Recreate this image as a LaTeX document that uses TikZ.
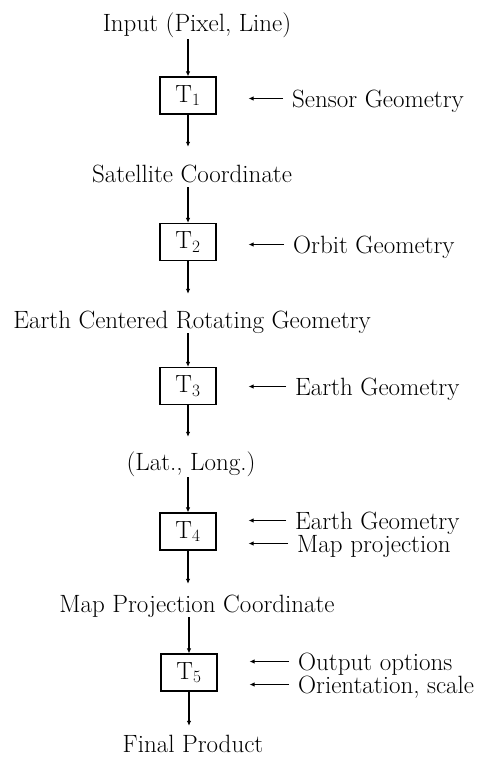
\documentclass[tikz,border=0pt]{standalone}
\usepackage{amsmath}
\usepackage{tikz}
\usetikzlibrary{positioning, arrows.meta, calc}

\begin{document}
\begin{tikzpicture}[
    x=1pt, y=-1pt,
    every node/.style={font=\fontsize{25}{29}\selectfont},
    tbox/.style={draw, line width=1.2pt, minimum width=56pt, minimum height=37pt, inner sep=0pt},
    lbl/.style={inner sep=0pt, text height=17pt, text depth=0pt, anchor=base},
    side/.style={inner sep=0pt, text height=17pt, text depth=0pt, anchor=base west},
    arr/.style={-{Latex[length=5pt, width=4.5pt]}, line width=1.2pt},
  ]
  \useasboundingbox (0,0) rectangle (488,757);

  % ---- main column ----
  \node[lbl] (inp) at (197,32) {Input (Pixel, Line)};
  \node[tbox] (t1) at (188,95.5) {$\mathrm{T}_1$};
  \node[lbl] (sat) at (192,182) {Satellite Coordinate};
  \node[tbox] (t2) at (188,242) {$\mathrm{T}_2$};
  \node[lbl] (ecr) at (192,328) {Earth Centered Rotating Geometry};
  \node[tbox] (t3) at (188,386) {$\mathrm{T}_3$};
  \node[lbl] (latlong) at (191,470) {(Lat., Long.)};
  \node[tbox] (t4) at (188,531.5) {$\mathrm{T}_4$};
  \node[lbl] (mapc) at (197,612) {Map Projection Coordinate};
  \node[tbox] (t5) at (189,672.5) {$\mathrm{T}_5$};
  \node[lbl] (final) at (193,752) {Final Product};

  % ---- side inputs ----
  \node[side] (sensor) at (292,107) {Sensor Geometry};
  \node[side] (orbit) at (293,253) {Orbit Geometry};
  \node[side] (earthA) at (295,395) {Earth Geometry};
  \node[side] (earthB) at (295,529) {Earth Geometry};
  \node[side] (mapproj) at (297,552) {Map projection};
  \node[side] (outopt) at (298,670) {Output options};
  \node[side] (orient) at (298,693) {Orientation, scale};

  % ---- arrows down the column ----
  \draw[arr, shorten <=7pt] (t1 |- inp.south) -- (t1.north);
  \draw[arr, shorten >=18pt] (t1.south) -- (t1 |- sat.north);
  \draw[arr, shorten <=5pt] (t2 |- sat.south) -- (t2.north);
  \draw[arr, shorten >=17pt] (t2.south) -- (t2 |- ecr.north);
  \draw[arr, shorten <=5pt] (t3 |- ecr.south) -- (t3.north);
  \draw[arr, shorten >=16pt] (t3.south) -- (t3 |- latlong.north);
  \draw[arr, shorten <=7pt] (t4 |- latlong.south) -- (t4.north);
  \draw[arr, shorten >=11pt] (t4.south) -- (t4 |- mapc.north);
  \draw[arr, shorten <=5pt] (t5 |- mapc.south) -- (t5.north);
  \draw[arr, shorten >=9pt] (t5.south) -- (t5 |- final.north);

  % ---- arrows from the side ----
  \foreach \s/\t in {sensor/t1, orbit/t2, earthA/t3, earthB/t4, mapproj/t4, outopt/t5, orient/t5}
    \draw[arr, shorten <=9pt, shorten >=32pt] (\s.west) -- (\s.west -| \t.east);

\end{tikzpicture}
\end{document}
